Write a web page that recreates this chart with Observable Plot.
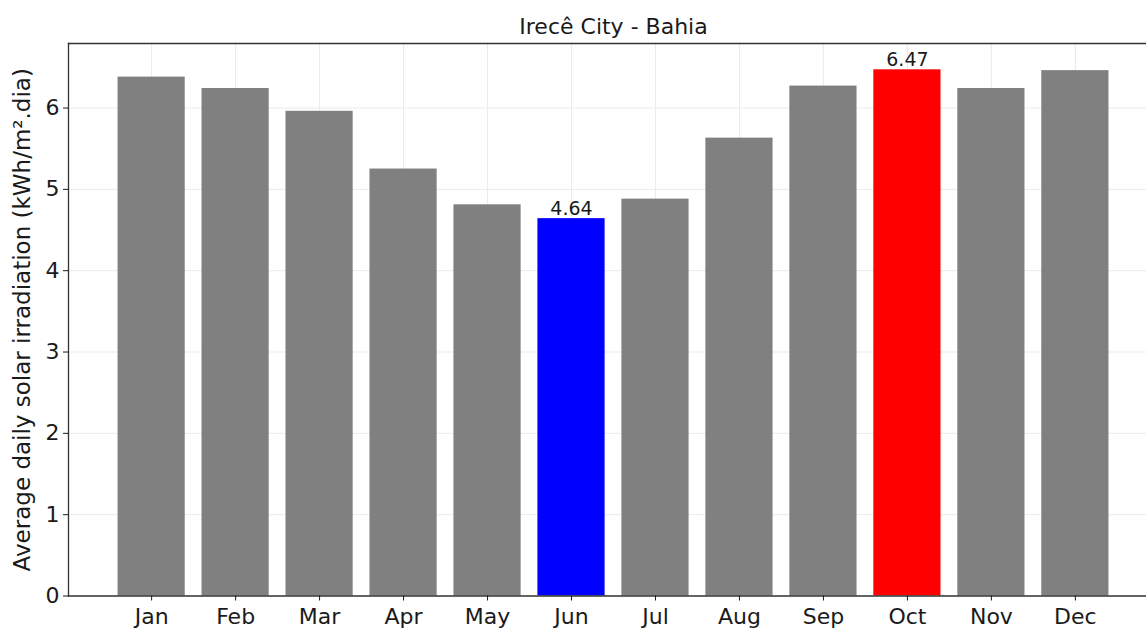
<!DOCTYPE html>
<html><head><meta charset="utf-8">
<script src="https://cdn.jsdelivr.net/npm/d3@7"></script>
<script src="https://cdn.jsdelivr.net/npm/@observablehq/plot@0.6"></script>
<style>
body{margin:0;background:#fff;overflow:hidden}
</style>
</head><body><div id="c"></div>
<script>
const months = ["Jan","Feb","Mar","Apr","May","Jun","Jul","Aug","Sep","Oct","Nov","Dec"];
const values = [6.38, 6.24, 5.96, 5.25, 4.81, 4.64, 4.88, 5.63, 6.27, 6.47, 6.24, 6.46];
const yTicks = [0, 1, 2, 3, 4, 5, 6];
const minMonth = "Jun";
const maxMonth = "Oct";
const title = "Irecê City - Bahia";
const yLabel = "Average daily solar irradiation (kWh/m².dia)";

const data = months.map((m, i) => ({month: m, value: values[i]}));
const colorOf = m => m === minMonth ? "#0000ff" : m === maxMonth ? "#ff0000" : "#808080";
const highlights = data.filter(d => d.month === minMonth || d.month === maxMonth);
const yMax = d3.max(values) * 1.05;

const chart = Plot.plot({
  width: 1146,
  height: 629,
  marginLeft: 68,
  marginRight: 0,
  marginTop: 43,
  marginBottom: 33.5,
  style: {fontFamily: "DejaVu Sans", background: "#fff", color: "#1a1a1a", overflow: "hidden"},
  x: {domain: months, range: [68, 1158], paddingInner: 0.2, paddingOuter: 0.59, align: 0.5, round: false},
  y: {domain: [0, yMax]},
  color: {type: "identity"},
  marks: [
    Plot.ruleX(months, {x: d => d, stroke: "#ebebeb", strokeWidth: 1}),
    Plot.ruleY(yTicks, {y: d => d, stroke: "#ebebeb", strokeWidth: 1}),
    Plot.barY(data, {x: "month", y: "value", fill: d => colorOf(d.month)}),
    Plot.text(highlights, {x: "month", y: "value", text: d => d.value.toFixed(2), lineAnchor: "bottom", dy: -4, fontSize: 19, fill: "#1a1a1a"}),
    Plot.frame({anchor: "left", stroke: "#333", strokeWidth: 1.3}),
    Plot.frame({anchor: "top", stroke: "#333", strokeWidth: 1.3}),
    Plot.frame({anchor: "bottom", stroke: "#333", strokeWidth: 1.3}),
    Plot.axisY({ticks: yTicks, tickSize: 5, tickPadding: 4, fontSize: 22, label: null, tickFormat: d => String(d)}),
    Plot.axisX({tickSize: 5, tickPadding: 7, fontSize: 22, label: null}),
    Plot.text([title], {text: d => d, frameAnchor: "top", lineAnchor: "bottom", dx: 6, dy: -10, fontSize: 22, fill: "#1a1a1a"}),
    Plot.text([yLabel], {frameAnchor: "left", text: d => d, rotate: -90, dx: -46, lineAnchor: "middle", textAnchor: "middle", fontSize: 23, fill: "#1a1a1a"})
  ]
});
document.getElementById("c").appendChild(chart);
</script>
</body></html>
